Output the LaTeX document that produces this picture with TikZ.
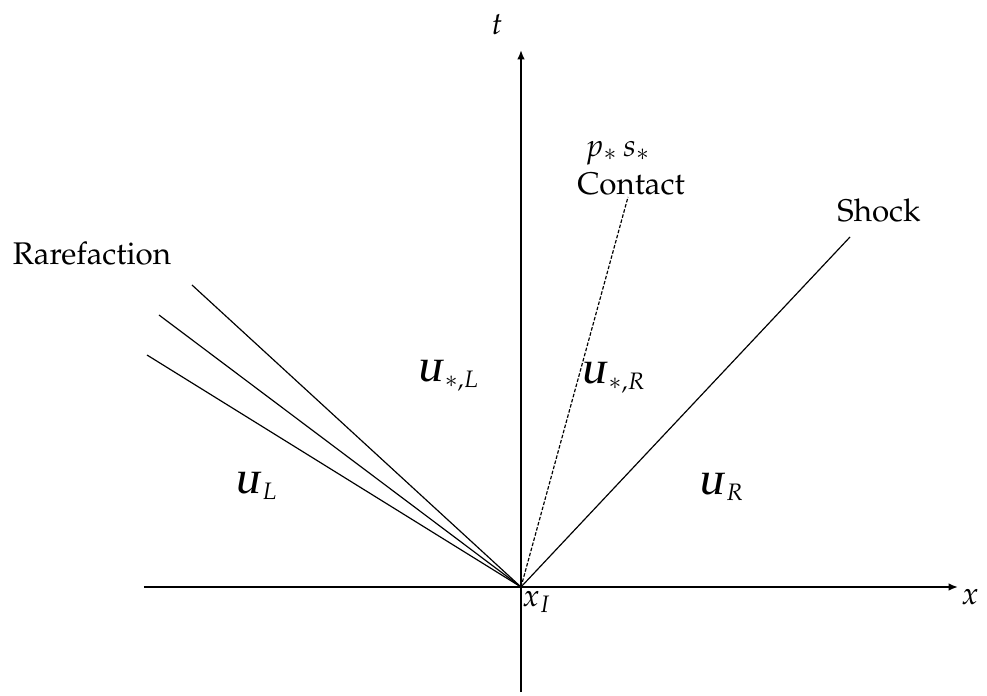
\documentclass[tikz,border=0pt]{standalone}
\usepackage[T1]{fontenc}
\usepackage{amsmath}
\usepackage{mathpazo}
\usepackage{tikz}
\usetikzlibrary{arrows.meta, positioning, calc}

\begin{document}
\begin{tikzpicture}[
		x=0.3385pt, y=0.3385pt,
		font=\fontsize{10.6pt}{13pt}\selectfont,
		axis/.style={-{Latex[length=3.2pt, width=2.6pt]}, semithick},
		wave/.style={thin},
		lbl/.style={inner sep=1pt}
		]
		\useasboundingbox (-521,-108) rectangle (466,587);
		% axes
		\coordinate (xI) at (0,0);
		\coordinate (xl) at (-377,0);
		\coordinate (xr) at (437,0);
		\coordinate (tb) at (0,-105);
		\coordinate (tt) at (0,537);
		\draw[axis] (xl) -- (xr);
		\draw[axis] (tb) -- (tt);
		\node[lbl] (xlab) at (449,-10) {$x$};
		\node[lbl] (tlab) at (-24,562) {$t$};
		\node[lbl] (xIlab) at (16,-15) {$x_I$};
		
		% waves
		\coordinate (fanA) at (-329,302);
		\coordinate (fanB) at (-362,272);
		\coordinate (fanC) at (-374,232);
		\coordinate (cont) at (107,390);
		\coordinate (shk) at (329,350);
		\draw[wave] (xI) -- (fanA);
		\draw[wave] (xI) -- (fanB);
		\draw[wave] (xI) -- (fanC);
		\draw[wave, dash pattern=on 1.2pt off 0.6pt] (xI) -- (cont);
		\draw[wave] (xI) -- (shk);
		
		\node[lbl] (rare) at (-429,333) {Rarefaction};
		\node[lbl] (contlab) at (110,403) {Contact};
		\node[lbl] (ps) at (97,434) {$p_*\,s_*$};
		\node[lbl] (shklab) at (358,376) {Shock};
		
		% states
		\node[lbl] (UsL) at (-72,211) {$\boldsymbol{U}_{*,L}$};
		\node[lbl] (UsR) at (93,209) {$\boldsymbol{U}_{*,R}$};
		\node[lbl] (UL) at (-264,101) {$\boldsymbol{U}_L$};
		\node[lbl] (UR) at (201,100) {$\boldsymbol{U}_R$};
	\end{tikzpicture}
\end{document}
